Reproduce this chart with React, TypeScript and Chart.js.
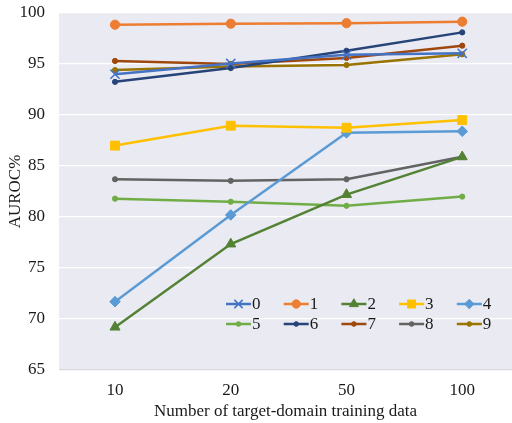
import React, { useEffect, useRef } from "react";
import { Chart, registerables } from "chart.js";
import { drawPoint } from "chart.js/helpers";

Chart.register(...registerables);

const categories = ["10", "20", "50", "100"];
const seriesNames = ["0", "1", "2", "3", "4", "5", "6", "7", "8", "9"];
const s0 = [94.0, 95.05, 95.9, 96.05];
const s1 = [98.85, 98.95, 99.0, 99.15];
const s2 = [69.2, 77.35, 82.2, 85.9];
const s3 = [87.0, 88.95, 88.75, 89.5];
const s4 = [71.7, 80.2, 88.25, 88.4];
const s5 = [81.8, 81.5, 81.1, 82.0];
const s6 = [93.25, 94.6, 96.3, 98.1];
const s7 = [95.3, 95.0, 95.6, 96.8];
const s8 = [83.7, 83.55, 83.7, 85.9];
const s9 = [94.4, 94.75, 94.9, 95.95];
const seriesValues = [s0, s1, s2, s3, s4, s5, s6, s7, s8, s9];
const yTicks = [65, 70, 75, 80, 85, 90, 95, 100];

const colors = ["#4472C4", "#ED7D31", "#548235", "#FFC000", "#5B9BD5", "#70AD47", "#264478", "#9E480E", "#636363", "#997300"];
const markers = ["crossRot", "circle", "triangle", "rect", "rectRot", "circle", "circle", "circle", "circle", "circle"];
const radii = [6.5, 4.6, 5.8, 6.3, 5.3, 2.6, 2.6, 2.6, 2.6, 2.6];

const FONT = "'Liberation Serif', 'Times New Roman', serif";

export default function App() {
  const ref = useRef<HTMLCanvasElement>(null);
  useEffect(() => {
    if (!ref.current) return;
    const bgPlugin = {
      id: "bg",
      beforeDraw(chart: any) {
        const { ctx, chartArea } = chart;
        ctx.save();
        ctx.fillStyle = "#EAEAF2";
        ctx.fillRect(chartArea.left, chartArea.top, chartArea.right - chartArea.left, chartArea.bottom - chartArea.top);
        ctx.restore();
      },
    };
    const legendPlugin = {
      id: "customLegend",
      afterDraw(chart: any) {
        const { ctx, chartArea } = chart;
        ctx.save();
        const x0 = chartArea.left + 167;
        const y0 = chartArea.top + 291;
        const colW = 57.7;
        const rowH = 20;
        seriesNames.forEach((name, i) => {
          const col = i % 5;
          const row = Math.floor(i / 5);
          const x = x0 + col * colW;
          const y = y0 + row * rowH;
          ctx.strokeStyle = colors[i];
          ctx.lineWidth = 2.5;
          ctx.beginPath();
          ctx.moveTo(x, y);
          ctx.lineTo(x + 25, y);
          ctx.stroke();
          ctx.fillStyle = colors[i];
          ctx.strokeStyle = colors[i];
          ctx.lineWidth = markers[i] === "crossRot" ? 1.5 : 1;
          drawPoint(ctx, {
            pointStyle: markers[i],
            radius: radii[i] * 0.9,
            borderWidth: markers[i] === "crossRot" ? 1.5 : 1,
            rotation: 0,
          } as any, x + 12.5, y);
          ctx.fillStyle = "#1a1a1a";
          ctx.font = `17px ${FONT}`;
          ctx.textBaseline = "middle";
          ctx.textAlign = "left";
          ctx.fillText(name, x + 26, y + 1);
        });
        ctx.restore();
      },
    };
    const chart = new Chart(ref.current, {
      type: "line",
      data: {
        datasets: seriesValues.map((vals, i) => ({
          label: seriesNames[i],
          data: vals.map((v, j) => ({ x: j, y: v })),
          borderColor: colors[i],
          backgroundColor: colors[i],
          borderWidth: 2.5,
          pointStyle: markers[i] as any,
          pointRadius: radii[i],
          pointBorderWidth: markers[i] === "crossRot" ? 1.5 : 1,
          pointBorderColor: colors[i],
          pointBackgroundColor: colors[i],
          tension: 0,
          fill: false,
          clip: false,
        })),
      },
      options: {
        animation: false,
        responsive: false,
        layout: { autoPadding: false, padding: { top: 13, right: 0, left: 0, bottom: 0 } },
        plugins: {
          legend: { display: false },
          tooltip: { enabled: false },
        },
        scales: {
          x: {
            type: "linear",
            min: -0.484,
            max: 3.43,
            afterBuildTicks: (scale: any) => {
              scale.ticks = categories.map((_, i) => ({ value: i }));
            },
            afterFit: (scale: any) => {
              scale.height = 53;
              scale.paddingLeft = 0;
              scale.paddingRight = 0;
            },
            ticks: {
              callback: (v: any) => categories[v] ?? "",
              font: { family: FONT, size: 17 },
              color: "#1a1a1a",
              padding: 10,
              maxRotation: 0,
            },
            grid: { display: false, drawTicks: false },
            border: { display: false },
            title: {
              display: true,
              text: "Number of target-domain training data",
              font: { family: FONT, size: 17 },
              color: "#1a1a1a",
              padding: { top: 0, bottom: 1 },
            },
          },
          y: {
            type: "linear",
            min: 65,
            max: 100,
            afterBuildTicks: (scale: any) => {
              scale.ticks = yTicks.map((v) => ({ value: v }));
            },
            afterFit: (scale: any) => {
              scale.width = 59;
              scale.paddingTop = 0;
              scale.paddingBottom = 0;
            },
            ticks: {
              font: { family: FONT, size: 17 },
              color: "#1a1a1a",
              padding: 14,
            },
            grid: {
              color: (c: any) => (c.tick && c.tick.value === 65 ? "#D9D9D9" : "#FFFFFF"),
              lineWidth: 1.3,
              drawTicks: false,
            },
            border: { display: false },
            title: {
              display: true,
              text: "AUROC%",
              font: { family: FONT, size: 17 },
              color: "#1a1a1a",
              padding: { top: 5, bottom: 0 },
            },
          },
        },
      },
      plugins: [bgPlugin, legendPlugin],
    } as any);
    return () => chart.destroy();
  }, []);
  return (
    <div style={{ position: "absolute", left: 0, top: 0, width: 512, height: 423, background: "#fff", overflow: "hidden" }}>
      <canvas ref={ref} width={512} height={423} style={{ display: "block" }} />
    </div>
  );
}
